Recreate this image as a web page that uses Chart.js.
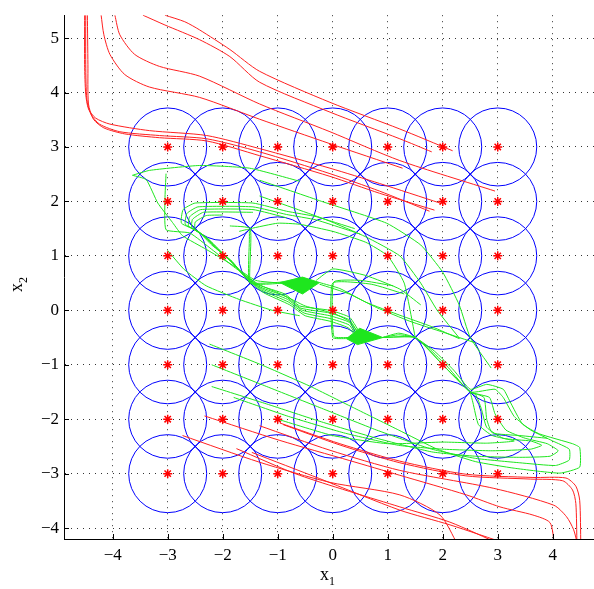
<!DOCTYPE html>
<html>
<head>
<meta charset="UTF-8">
<title>Trajectories</title>
<script src="https://cdn.jsdelivr.net/npm/chart.js@4"></script>
<style>
    body { margin: 0; background: #fff; }
    #wrap { width: 594px; height: 589px; }
</style>
</head>
<body>
<div id="wrap"><canvas id="plot" width="594" height="589"></canvas></div>
<script>
// grid of centres (circles + stars)
const gridX = [-3, -2, -1, 0, 1, 2, 3];
const gridY = [-3, -2, -1, 0, 1, 2, 3];
const xTicks = [-4, -3, -2, -1, 0, 1, 2, 3, 4];
const yTicks = [-4, -3, -2, -1, 0, 1, 2, 3, 4, 5];

// red trajectories, upper left
const redTop = [
    [[-4.21,5.42],[-4.16,5.06],[-4.05,4.70],[-3.78,4.33],[-3.33,4.10],[-2.42,3.91],[-1.33,3.51],[-0.05,3.06],[1.27,2.61]],
    [[-3.96,5.42],[-3.87,5.06],[-3.60,4.70],[-3.15,4.48],[-2.42,4.30],[-1.33,3.79],[-0.05,3.28],[1.22,2.75],[2.95,2.19]],
    [[-3.45,5.42],[-3.05,5.24],[-2.42,4.97],[-1.87,4.66],[-1.33,4.19],[-0.05,3.64],[1.22,3.15],[1.80,2.91]],
    [[-3.05,5.42],[-2.69,5.30],[-2.42,5.15],[-1.87,4.79],[-1.33,4.39],[-0.05,3.82],[1.22,3.33],[2.18,2.93]],
    [[-4.49,5.42],[-4.49,4.51],[-4.47,3.88],[-4.40,3.61],[-4.24,3.42],[-3.87,3.28],[-3.15,3.21],[-2.29,3.15],[-1.33,2.91],[-0.05,2.51],[0.85,2.19],[1.76,1.82]],
    [[-4.46,5.42],[-4.45,4.51],[-4.44,3.79],[-4.35,3.51],[-4.16,3.35],[-3.78,3.24],[-3.15,3.17],[-2.29,3.11],[-1.33,2.84],[-0.05,2.46],[0.85,2.15],[1.85,1.84]],
    [[-4.51,5.42],[-4.51,4.51],[-4.49,3.97],[-4.44,3.70],[-4.31,3.53],[-4.05,3.42],[-3.33,3.30],[-2.29,3.21],[-1.33,2.97],[-0.05,2.61],[0.85,2.33],[1.95,1.97]]
];

// red trajectories, lower right
const redBottom = [
    [[-0.96,-2.07],[0.13,-2.45],[1.22,-2.77],[2.42,-3.01],[3.64,-3.07],[4.24,-3.08],[4.42,-3.23],[4.49,-3.49],[4.51,-4.3]],
    [[-0.90,-2.10],[0.15,-2.48],[1.22,-2.80],[2.42,-3.04],[3.60,-3.10],[4.18,-3.13],[4.36,-3.30],[4.42,-3.55],[4.44,-4.3]],
    [[-1.33,-2.12],[-0.05,-2.57],[1.22,-2.94],[2.93,-3.27],[4.02,-3.58],[4.25,-3.79],[4.38,-4.03],[4.45,-4.3]],
    [[-2.33,-1.94],[-0.96,-2.39],[0.31,-2.76],[1.22,-3.03],[2.43,-3.39],[3.04,-3.61],[3.64,-3.76],[3.95,-3.90],[4.03,-4.3]],
    [[-2.73,-2.30],[-1.33,-2.79],[-0.05,-3.16],[1.22,-3.39],[1.95,-3.76],[2.27,-4.3]],
    [[-1.75,-2.54],[-0.60,-3.03],[1.22,-3.61],[2.13,-3.89],[3.05,-4.3]],
    [[-1.47,-2.61],[-0.24,-3.09],[1.22,-3.67],[2.13,-3.94],[3.20,-4.3]]
];

// green trajectories
const greenLines = [
    [[-3.64,2.48],[-3.33,2.57],[-2.42,2.66],[-1.51,2.61],[-0.60,2.37]],
    [[-3.64,2.48],[-3.39,2.40],[-3.18,1.97],[-2.91,1.61],[-2.73,1.37],[-2.30,1.12],[-1.85,0.85],[-1.40,0.55],[-0.95,0.50]],
    [[-3.03,2.51],[-3.05,2.03],[-3.03,1.48],[-2.60,1.42],[-2.20,1.12],[-1.80,0.80],[-1.35,0.48],[-0.90,0.28],[-0.50,0.08],[0.00,-0.05],[0.30,-0.20],[0.50,-0.45]],
    [[0.40,1.50],[-0.30,1.72],[-0.84,1.82],[-1.45,1.97],[-2.50,1.97],[-2.72,1.85],[-2.75,1.60],[-2.45,1.45],[-2.20,1.20],[-1.87,0.93],[-1.69,0.72],[-1.36,0.47],[-0.87,0.30],[-0.60,0.08],[-0.05,0.00],[0.31,-0.13],[0.53,-0.48]],
    [[0.50,1.40],[-0.30,1.66],[-0.84,1.76],[-1.45,1.90],[-2.45,1.90],[-2.65,1.78],[-2.68,1.58],[-2.40,1.42],[-2.15,1.17],[-1.83,0.90],[-1.65,0.68],[-1.32,0.43],[-0.85,0.25],[-0.58,0.04],[-0.05,-0.05],[0.31,-0.18],[0.50,-0.50]],
    [[-0.84,1.70],[-1.45,1.85],[-2.40,1.85],[-2.60,1.72],[-2.62,1.55],[-2.35,1.38],[-2.10,1.13],[-1.80,0.86],[-1.62,0.64],[-1.30,0.40],[-0.82,0.20],[-0.55,0.00],[-0.05,-0.10],[0.30,-0.22],[0.48,-0.50]],
    [[-1.45,1.80],[-2.35,1.80],[-2.55,1.67],[-2.56,1.52],[-2.30,1.34],[-2.05,1.08],[-1.77,0.82],[-1.58,0.60],[-1.27,0.36],[-0.80,0.15],[-0.52,-0.05],[-0.05,-0.15],[0.30,-0.27],[0.45,-0.50]],
    [[-2.00,1.75],[-2.30,1.74],[-2.50,1.62],[-2.50,1.48],[-2.25,1.30],[-2.00,1.05],[-1.74,0.78],[-1.55,0.56],[-1.25,0.32],[-0.78,0.10],[-0.50,-0.10],[-0.05,-0.20],[0.28,-0.32],[0.45,-0.50]],
    [[-1.87,1.55],[-1.50,1.50],[-1.50,0.50],[-1.20,0.48],[-0.90,0.50]],
    [[-1.70,1.45],[-1.52,1.48],[-1.52,0.52],[-1.20,0.50],[-0.90,0.52]],
    [[-1.50,1.50],[-1.00,1.60],[-0.60,1.58],[0.00,1.45],[0.60,1.25],[1.00,1.00],[1.30,0.50],[1.50,-0.50]],
    [[-1.33,2.39],[-0.20,2.00],[0.98,1.60],[1.60,1.20],[2.00,0.70],[2.30,0.10],[2.50,-0.50],[2.88,-1.06]],
    [[-1.33,2.10],[-0.11,1.66],[0.60,1.35],[1.22,1.00],[1.60,0.50],[1.90,0.00],[2.31,-0.52]],
    [[2.30,-0.52],[1.80,-0.30],[1.22,-0.09],[0.60,0.15],[0.13,0.40],[-0.24,0.51]],
    [[2.60,-0.60],[2.00,-0.40],[1.40,-0.20],[0.80,0.05],[0.30,0.30],[-0.24,0.48]],
    [[1.60,0.10],[1.22,0.39],[0.60,0.64],[0.00,0.76],[-0.30,0.55]],
    [[1.30,0.30],[0.70,0.48],[0.00,0.50],[0.00,-0.50],[0.25,-0.52]],
    [[1.10,0.45],[0.50,0.55],[0.02,0.52],[0.02,-0.48],[0.30,-0.50]],
    [[-3.00,1.10],[-2.70,0.75],[-2.30,0.45],[-1.70,0.20],[-1.10,0.00],[-0.60,-0.10]],
    [[-2.24,-0.62],[-1.30,-1.00],[-0.40,-1.40],[0.40,-1.80],[1.20,-2.20],[1.90,-2.55],[2.60,-2.78],[3.30,-2.90],[4.13,-2.99],[4.49,-2.88],[4.49,-2.52],[4.36,-2.45],[3.76,-2.27],[3.45,-2.09],[3.22,-1.67],[3.10,-1.45],[2.80,-1.36],[2.50,-1.45],[2.20,-1.10],[1.85,-0.75],[1.50,-0.50],[1.20,-0.42],[0.90,-0.50]],
    [[-2.20,-1.00],[-1.20,-1.40],[-0.20,-1.80],[0.80,-2.20],[1.80,-2.55],[2.60,-2.72],[3.40,-2.80],[4.05,-2.85],[4.30,-2.75],[4.30,-2.55],[4.00,-2.40],[3.60,-2.20],[3.30,-1.95],[3.10,-1.60],[2.95,-1.45],[2.50,-1.50],[2.10,-1.05],[1.75,-0.70],[1.50,-0.50],[1.20,-0.45],[0.90,-0.50]],
    [[-2.20,-1.40],[-1.20,-1.72],[-0.20,-2.05],[0.80,-2.35],[1.80,-2.60],[2.60,-2.68],[3.40,-2.70],[3.95,-2.68],[4.10,-2.58],[3.90,-2.45],[3.50,-2.35],[3.15,-2.20],[2.95,-1.90],[2.85,-1.60],[2.50,-1.50],[2.00,-1.00],[1.50,-0.50],[0.90,-0.50]],
    [[-1.80,-1.60],[-0.80,-1.95],[0.20,-2.25],[1.20,-2.48],[2.00,-2.55],[2.90,-2.58],[3.60,-2.55],[3.80,-2.48],[3.60,-2.40],[3.10,-2.35],[2.80,-2.15],[2.70,-1.80],[2.60,-1.55],[2.50,-1.50],[2.00,-1.00],[1.50,-0.50],[0.90,-0.50]],
    [[-1.00,-2.00],[0.00,-2.30],[1.00,-2.45],[2.00,-2.42],[2.80,-2.44],[3.30,-2.40],[2.90,-2.30],[2.65,-2.10],[2.55,-1.70],[2.50,-1.50]],
    [[2.50,-1.50],[2.75,-1.60],[2.80,-2.00],[2.90,-2.25],[3.40,-2.30],[3.90,-2.35]]
];

// filled end regions
const attractors = [
    [[-0.96,0.51],[-0.55,0.61],[-0.24,0.51],[-0.55,0.30],[-0.96,0.51]],
    [[0.25,-0.52],[0.49,-0.33],[0.91,-0.50],[0.45,-0.63],[0.25,-0.52]]
];

const toPts = arr => arr.map(p => ({ x: p[0], y: p[1] }));

const centres = [];
gridX.forEach(x => gridY.forEach(y => centres.push({ x: x, y: y })));

const datasets = [];

datasets.push({
    data: centres,
    showLine: false,
    pointStyle: 'star',
    pointRadius: 4.5,
    borderColor: '#ff0000',
    backgroundColor: '#ff0000',
    pointBorderWidth: 1.5,
    order: 1
});

redTop.concat(redBottom).forEach(line => {
    datasets.push({
        data: toPts(line),
        showLine: true,
        pointRadius: 0,
        borderColor: '#ff2020',
        borderWidth: 1,
        tension: 0.25,
        order: 2
    });
});

greenLines.forEach(line => {
    datasets.push({
        data: toPts(line),
        showLine: true,
        pointRadius: 0,
        borderColor: '#1ee61e',
        borderWidth: 1,
        tension: 0.15,
        order: 3
    });
});

attractors.forEach(shape => {
    datasets.push({
        data: toPts(shape),
        showLine: true,
        pointRadius: 0,
        borderColor: '#1ee61e',
        backgroundColor: '#1ee61e',
        borderWidth: 1,
        fill: 'shape',
        order: 3
    });
});

datasets.push({
    data: centres,
    showLine: false,
    pointStyle: 'circle',
    pointRadius: 39,
    borderColor: '#0000ff',
    backgroundColor: 'rgba(0,0,0,0)',
    pointBorderWidth: 1,
    order: 4
});

const fmt = v => (v < 0 ? '\u2212' + Math.abs(v) : String(v));
const serif = '"Liberation Serif", "Times New Roman", serif';

// matlab style inward ticks and subscript axis labels
const axisDecor = {
    id: 'axisDecor',
    afterDraw(chart) {
        const ctx = chart.ctx;
        const xs = chart.scales.x, ys = chart.scales.y;
        const a = chart.chartArea;
        ctx.save();
        ctx.strokeStyle = '#000';
        ctx.lineWidth = 1;
        ctx.beginPath();
        xTicks.forEach(t => {
            const px = Math.round(xs.getPixelForValue(t)) + 0.5;
            ctx.moveTo(px, a.bottom);
            ctx.lineTo(px, a.bottom - 5);
        });
        yTicks.forEach(t => {
            const py = Math.round(ys.getPixelForValue(t)) + 0.5;
            ctx.moveTo(a.left, py);
            ctx.lineTo(a.left + 5, py);
        });
        ctx.stroke();

        ctx.fillStyle = '#000';
        ctx.textBaseline = 'alphabetic';
        ctx.textAlign = 'left';
        ctx.font = '18px ' + serif;
        const wx = ctx.measureText('x').width;
        ctx.fillText('x', 320, 580);
        ctx.font = '12px ' + serif;
        ctx.fillText('1', 320 + wx, 585);

        ctx.translate(22, 292);
        ctx.rotate(-Math.PI / 2);
        ctx.font = '18px ' + serif;
        ctx.fillText('x', 0, 0);
        ctx.font = '12px ' + serif;
        ctx.fillText('2', wx, 5);
        ctx.restore();
    }
};

new Chart(document.getElementById('plot'), {
    type: 'scatter',
    data: { datasets: datasets },
    options: {
        responsive: false,
        animation: false,
        devicePixelRatio: 1,
        layout: { autoPadding: false, padding: { top: 10, left: 0, right: 0, bottom: 0 } },
        plugins: { legend: { display: false }, tooltip: { enabled: false } },
        scales: {
            x: {
                type: 'linear',
                min: -4.885,
                max: 4.75,
                afterFit: s => { s.height = 50; },
                afterBuildTicks: s => { s.ticks = xTicks.map(v => ({ value: v })); },
                ticks: {
                    callback: fmt,
                    color: '#000',
                    padding: 6,
                    maxRotation: 0,
                    font: { family: serif, size: 17 }
                },
                grid: { color: '#333', drawTicks: false },
                border: { display: true, color: '#000', width: 1, dash: [1, 5] }
            },
            y: {
                type: 'linear',
                min: -4.2,
                max: 5.42,
                afterFit: s => { s.width = 64; },
                afterBuildTicks: s => { s.ticks = yTicks.map(v => ({ value: v })); },
                ticks: {
                    callback: fmt,
                    color: '#000',
                    padding: 5,
                    font: { family: serif, size: 17 }
                },
                grid: { color: '#333', drawTicks: false },
                border: { display: true, color: '#000', width: 1, dash: [1, 5] }
            }
        }
    },
    plugins: [axisDecor]
});
</script>
</body>
</html>
